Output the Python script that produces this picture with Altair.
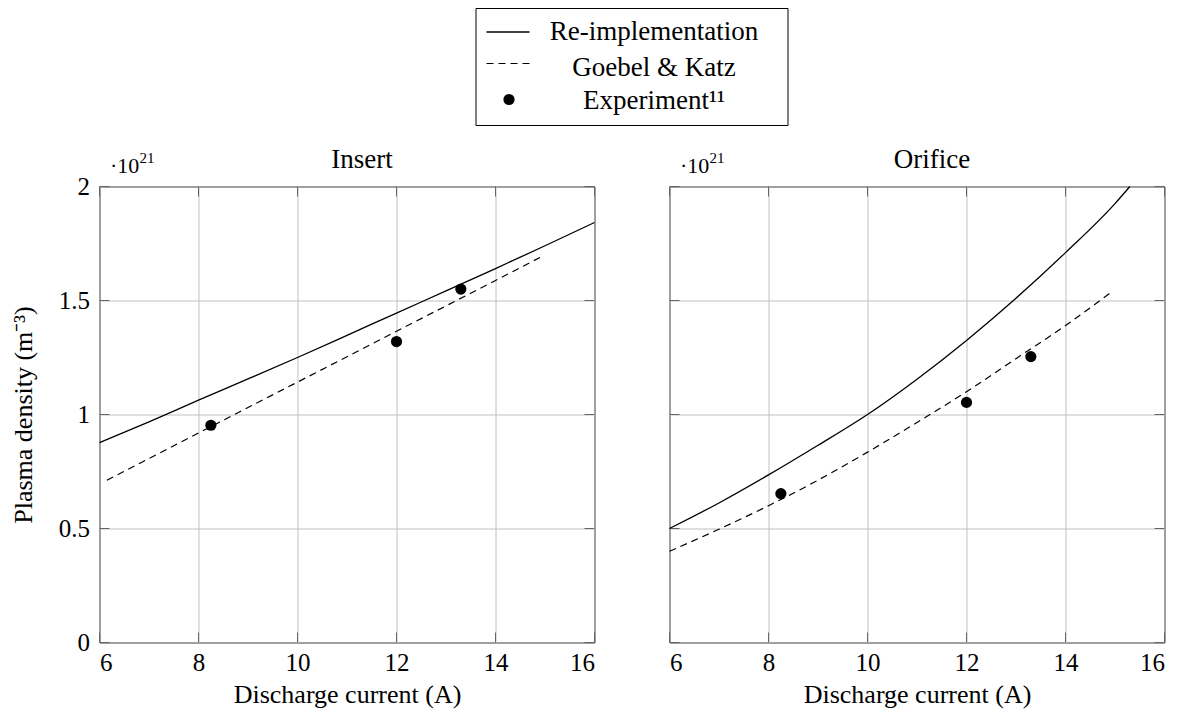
import altair as alt
import pandas as pd

FONT = "Liberation Serif"

series_names = ["Re-implementation", "Goebel & Katz", "Experiment¹¹"]
panel_titles = ["Insert", "Orifice"]
x_title = "Discharge current (A)"
y_title = "Plasma density (m⁻³)"
exponent_base = "·10"
exponent_power = "21"

x_ticks = [6, 8, 10, 12, 14, 16]
y_ticks = [0, 0.5, 1, 1.5, 2]

# Insert region
ins_re_x = [6, 7, 8, 9, 10, 11, 12, 13, 14, 15, 16]
ins_re_y = [0.877, 0.968, 1.063, 1.156, 1.25, 1.347, 1.445, 1.542, 1.64, 1.74, 1.842]
ins_gk_x = [6.15, 8, 10, 12, 14, 14.9]
ins_gk_y = [0.712, 0.919, 1.142, 1.365, 1.588, 1.689]
ins_exp_x = [8.25, 12, 13.3]
ins_exp_y = [0.953, 1.32, 1.55]

# Orifice region
ori_re_x = [6, 7, 8, 9, 10, 11, 12, 13, 14, 15, 15.3]
ori_re_y = [0.50, 0.612, 0.735, 0.865, 1.0, 1.155, 1.325, 1.51, 1.71, 1.925, 2.0]
ori_gk_x = [6, 7, 8, 9, 10, 11, 12, 13, 14, 14.92]
ori_gk_y = [0.40, 0.497, 0.60, 0.712, 0.835, 0.965, 1.10, 1.245, 1.39, 1.536]
ori_exp_x = [8.25, 12, 13.3]
ori_exp_y = [0.653, 1.053, 1.254]

W, H = 495, 456
TICK_LEN = 10
TICK_COLOR = "#666666"
DASH = [7, 5]
DOT_SIZE = 125

x_scale = alt.Scale(domain=[6, 16], nice=False)
y_scale = alt.Scale(domain=[0, 2], nice=False)


def one_row(**cols):
    return pd.DataFrame({k: [v] for k, v in cols.items()})


def text_layer(value, size, x, y, align="left"):
    return alt.Chart(one_row(t=value)).mark_text(
        font=FONT, fontSize=size, align=align, baseline="alphabetic", color="black"
    ).encode(text="t:N", x=alt.value(x), y=alt.value(y))


def panel(title, re_x, re_y, gk_x, gk_y, ex_x, ex_y, first):
    x_axis = alt.Axis(values=x_ticks, grid=True, ticks=False, domain=False,
                      labelPadding=8, titlePadding=6, title=x_title)
    y_kwargs = dict(values=y_ticks, format="~g", grid=True, ticks=False,
                    domain=False, labelPadding=10)
    if first:
        y_kwargs.update(title=y_title, titlePadding=22)
    else:
        y_kwargs.update(labels=False, title="")
    X = alt.X("x:Q", scale=x_scale, axis=x_axis)
    Y = alt.Y("y:Q", scale=y_scale, axis=alt.Axis(**y_kwargs))

    re_df = pd.DataFrame({"x": re_x, "y": re_y})
    gk_df = pd.DataFrame({"x": gk_x, "y": gk_y})
    ex_df = pd.DataFrame({"x": ex_x, "y": ex_y})

    solid = alt.Chart(re_df).mark_line(color="black", strokeWidth=1.3,
                                       interpolate="monotone").encode(x=X, y=Y)
    dashed = alt.Chart(gk_df).mark_line(color="black", strokeWidth=1.2,
                                        strokeDash=DASH,
                                        interpolate="monotone").encode(x=X, y=Y)
    dots = alt.Chart(ex_df).mark_point(filled=True, shape="circle", size=DOT_SIZE,
                                       color="black", opacity=1).encode(x=X, y=Y)

    # inward tick marks on all four sides
    yt = pd.DataFrame({"y": y_ticks})
    xt = pd.DataFrame({"x": x_ticks})
    tick_layers = [
        alt.Chart(yt).mark_rule(color=TICK_COLOR, strokeWidth=1).encode(
            y=Y, x=alt.value(0), x2=alt.value(TICK_LEN)),
        alt.Chart(yt).mark_rule(color=TICK_COLOR, strokeWidth=1).encode(
            y=Y, x=alt.value(W - TICK_LEN), x2=alt.value(W)),
        alt.Chart(xt).mark_rule(color=TICK_COLOR, strokeWidth=1).encode(
            x=X, y=alt.value(H - TICK_LEN), y2=alt.value(H)),
        alt.Chart(xt).mark_rule(color=TICK_COLOR, strokeWidth=1).encode(
            x=X, y=alt.value(0), y2=alt.value(TICK_LEN)),
    ]

    # axis multiplier above the top-left corner, and the panel heading
    exp_base = text_layer(exponent_base, 22, 10.5, -13.5)
    exp_power = text_layer(exponent_power, 15, 40, -24)
    title_text = text_layer(title, 27, W / 2 + 15, -19, align="center")

    layers = tick_layers + [solid, dashed, dots, exp_base, exp_power, title_text]

    if first:
        box = alt.Chart(one_row(k=0)).mark_rect(
            fill="white", stroke="black", strokeWidth=1
        ).encode(x=alt.value(376.5), x2=alt.value(688.5),
                 y=alt.value(-178), y2=alt.value(-61))
        row_y = [-154.5, -123, -87]
        text_y = [-146.5, -111, -78]
        sample_solid = alt.Chart(one_row(k=0)).mark_rule(
            color="black", strokeWidth=1.3
        ).encode(x=alt.value(387), x2=alt.value(430), y=alt.value(row_y[0]))
        sample_dash = alt.Chart(one_row(k=0)).mark_rule(
            color="black", strokeWidth=1.2, strokeDash=DASH
        ).encode(x=alt.value(387), x2=alt.value(430), y=alt.value(row_y[1]))
        sample_dot = alt.Chart(one_row(k=0)).mark_point(
            filled=True, shape="circle", size=DOT_SIZE, color="black", opacity=1
        ).encode(x=alt.value(409.5), y=alt.value(row_y[2]))
        labels = [text_layer(name, 27, 554.5, ty, align="center")
                  for name, ty in zip(series_names, text_y)]
        layers += [box, sample_solid, sample_dash, sample_dot] + labels

    return alt.layer(*layers).properties(width=W, height=H)


left = panel(panel_titles[0], ins_re_x, ins_re_y, ins_gk_x, ins_gk_y,
             ins_exp_x, ins_exp_y, True)
right = panel(panel_titles[1], ori_re_x, ori_re_y, ori_gk_x, ori_gk_y,
              ori_exp_x, ori_exp_y, False)

chart = alt.hconcat(left, right, spacing=75, bounds="flush").properties(
    padding={"left": 9.5, "top": 7.5, "right": 0, "bottom": 0}
).configure_view(
    stroke="black", strokeWidth=1
).configure_axis(
    labelFont=FONT, titleFont=FONT, labelFontSize=25, titleFontSize=26,
    titleFontWeight="normal", labelColor="black", titleColor="black",
    gridColor="#c0c0c0", gridWidth=1
)

chart.save("out.html", embed_options={"renderer": "svg", "actions": False})
